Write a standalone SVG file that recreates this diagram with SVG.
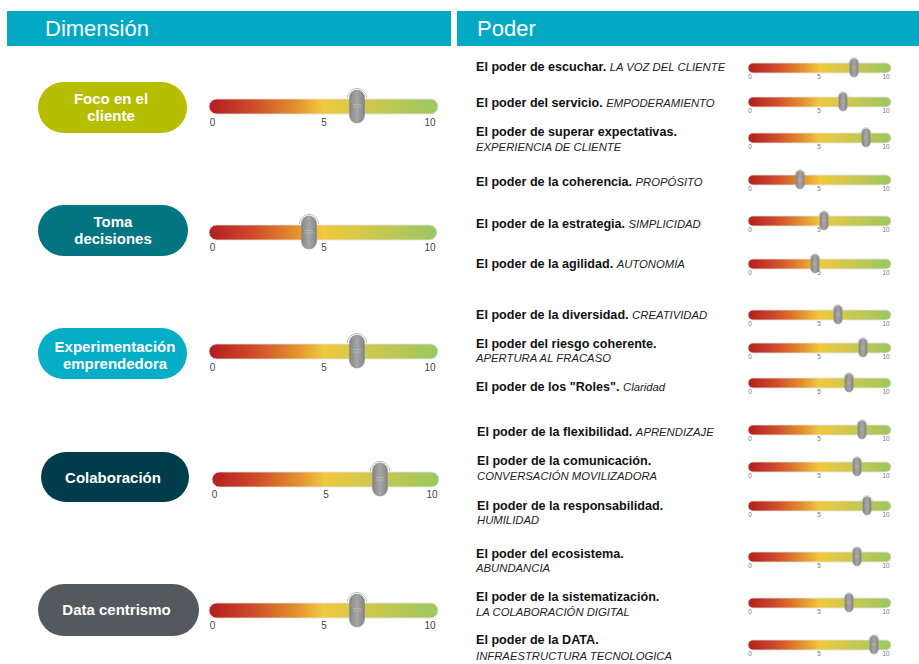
<svg xmlns="http://www.w3.org/2000/svg" xmlns:xlink="http://www.w3.org/1999/xlink" width="919" height="664" viewBox="0 0 919 664">
<style>
.hdr{fill:#02a9c4}
.htxt{font-family:"Liberation Sans",Arial,sans-serif;font-size:22px;fill:#ffffff}
.ptxt{font-family:"Liberation Sans",Arial,sans-serif;font-size:15px;font-weight:bold;fill:#ffffff;text-anchor:middle}
.lbl{font-family:"Liberation Sans",Arial,sans-serif;font-size:10px;fill:#444;text-anchor:middle}
.lbs{font-family:"Liberation Sans",Arial,sans-serif;font-size:6.5px;fill:#777;text-anchor:middle}
.t{font-family:"Liberation Sans",Arial,sans-serif;font-size:12.6px;font-weight:bold;fill:#111}
.i{font-family:"Liberation Sans",Arial,sans-serif;font-size:11.3px;font-style:italic;font-weight:normal;fill:#222}
.bar{fill:url(#barGrad);stroke:#e4e4e4;stroke-width:0.8}
</style>
<defs>
<linearGradient id="barGrad" x1="0" y1="0" x2="1" y2="0">
<stop offset="0" stop-color="#b41d22"/>
<stop offset="0.2" stop-color="#cf4d2a"/>
<stop offset="0.38" stop-color="#e3902f"/>
<stop offset="0.5" stop-color="#f0c93f"/>
<stop offset="0.7" stop-color="#cec84d"/>
<stop offset="1" stop-color="#9bc862"/>
</linearGradient>
<linearGradient id="knobGrad" x1="0" y1="0" x2="1" y2="0">
<stop offset="0" stop-color="#858585"/>
<stop offset="0.5" stop-color="#a6a6a6"/>
<stop offset="1" stop-color="#858585"/>
</linearGradient>
<g id="knob">
<path d="M -9.5 -8 A 9.5 9.5 0 0 1 9.5 -8" fill="none" stroke="#a0a0a0" stroke-width="0.8"/>
<path d="M -8.3 -8 A 8.3 8.3 0 0 1 8.3 -8" fill="none" stroke="#ffffff" stroke-width="1.6"/>
<rect x="-7.5" y="-16" width="15" height="33" rx="7.5" fill="url(#knobGrad)" stroke="#8a8a8a" stroke-width="0.6"/>
<line x1="-4" y1="-1.5" x2="4" y2="-1.5" stroke="#bdbdbd" stroke-width="0.8"/>
<line x1="-4" y1="1" x2="4" y2="1" stroke="#bdbdbd" stroke-width="0.8"/>
</g>
</defs>

<rect width="919" height="664" fill="#ffffff"/>

<g id="headers">
<rect class="hdr" x="7" y="11" width="444" height="35"/>
<rect class="hdr" x="457" y="11" width="462" height="35"/>
<text class="htxt" x="45" y="36">Dimensión</text>
<text class="htxt" x="477" y="36">Poder</text>
</g>

<g id="dim-foco">
<rect x="38" y="82" width="149" height="51" rx="25.5" fill="#b6be00"/>
<text class="ptxt" x="111" y="104">Foco en el</text>
<text class="ptxt" x="111" y="121">cliente</text>
<rect class="bar" x="209" y="99" width="229" height="15" rx="7.5"/>
<text class="lbl" x="212.5" y="126">0</text><text class="lbl" x="324" y="126">5</text><text class="lbl" x="430" y="126">10</text>
<use xlink:href="#knob" transform="translate(357,106)"/>
</g>

<g id="dim-toma">
<rect x="38" y="205" width="150" height="51" rx="25.5" fill="#037580"/>
<text class="ptxt" x="113" y="227">Toma</text>
<text class="ptxt" x="113" y="244">decisiones</text>
<rect class="bar" x="209" y="225" width="228" height="15" rx="7.5"/>
<text class="lbl" x="212.5" y="251">0</text><text class="lbl" x="324" y="251">5</text><text class="lbl" x="430" y="251">10</text>
<use xlink:href="#knob" transform="translate(309,232)"/>
</g>

<g id="dim-experimentacion">
<rect x="38" y="328" width="149" height="51" rx="25.5" fill="#05adc7"/>
<text class="ptxt" x="115" y="352">Experimentación</text>
<text class="ptxt" x="115" y="369">emprendedora</text>
<rect class="bar" x="209" y="344" width="229" height="15" rx="7.5"/>
<text class="lbl" x="212.5" y="371">0</text><text class="lbl" x="324" y="371">5</text><text class="lbl" x="430" y="371">10</text>
<use xlink:href="#knob" transform="translate(357,351)"/>
</g>

<g id="dim-colaboracion">
<rect x="41" y="452" width="148" height="50" rx="25" fill="#003c4a"/>
<text class="ptxt" x="113" y="483">Colaboración</text>
<rect class="bar" x="212" y="472" width="227" height="15" rx="7.5"/>
<text class="lbl" x="214.5" y="498">0</text><text class="lbl" x="326" y="498">5</text><text class="lbl" x="432" y="498">10</text>
<use xlink:href="#knob" transform="translate(380,479)"/>
</g>

<g id="dim-data">
<rect x="38" y="584" width="161" height="52" rx="26" fill="#53595c"/>
<text class="ptxt" x="116.5" y="615">Data centrismo</text>
<rect class="bar" x="209" y="603" width="229" height="15" rx="7.5"/>
<text class="lbl" x="212.5" y="629">0</text><text class="lbl" x="324" y="629">5</text><text class="lbl" x="430" y="629">10</text>
<use xlink:href="#knob" transform="translate(357,610)"/>
</g>

<g id="p1">
<text x="476" y="71"><tspan class="t">El poder de escuchar. </tspan><tspan class="i">LA VOZ DEL CLIENTE</tspan></text>
<rect class="bar" x="748" y="63" width="143" height="10" rx="5"/>
<text class="lbs" x="750" y="78.5">0</text><text class="lbs" x="819" y="78.5">5</text><text class="lbs" x="886" y="78.5">10</text>
<use xlink:href="#knob" transform="translate(854,67.5) scale(0.56)"/>
</g>
<g id="p2">
<text x="476" y="107"><tspan class="t">El poder del servicio. </tspan><tspan class="i">EMPODERAMIENTO</tspan></text>
<rect class="bar" x="748" y="97" width="143" height="10" rx="5"/>
<text class="lbs" x="750" y="112.5">0</text><text class="lbs" x="819" y="112.5">5</text><text class="lbs" x="886" y="112.5">10</text>
<use xlink:href="#knob" transform="translate(843,101.5) scale(0.56)"/>
</g>
<g id="p3">
<text class="t" x="476" y="136">El poder de superar expectativas.</text>
<text class="i" x="476" y="151">EXPERIENCIA DE CLIENTE</text>
<rect class="bar" x="748" y="133" width="143" height="10" rx="5"/>
<text class="lbs" x="750" y="148.5">0</text><text class="lbs" x="819" y="148.5">5</text><text class="lbs" x="886" y="148.5">10</text>
<use xlink:href="#knob" transform="translate(866,137.5) scale(0.56)"/>
</g>
<g id="p4">
<text x="476" y="186"><tspan class="t">El poder de la coherencia. </tspan><tspan class="i">PROPÓSITO</tspan></text>
<rect class="bar" x="748" y="175" width="143" height="10" rx="5"/>
<text class="lbs" x="750" y="190.5">0</text><text class="lbs" x="819" y="190.5">5</text><text class="lbs" x="886" y="190.5">10</text>
<use xlink:href="#knob" transform="translate(800,179.5) scale(0.56)"/>
</g>
<g id="p5">
<text x="476" y="228"><tspan class="t">El poder de la estrategia. </tspan><tspan class="i">SIMPLICIDAD</tspan></text>
<rect class="bar" x="748" y="216" width="143" height="10" rx="5"/>
<text class="lbs" x="750" y="231.5">0</text><text class="lbs" x="819" y="231.5">5</text><text class="lbs" x="886" y="231.5">10</text>
<use xlink:href="#knob" transform="translate(824,220.5) scale(0.56)"/>
</g>
<g id="p6">
<text x="476" y="268"><tspan class="t">El poder de la agilidad. </tspan><tspan class="i">AUTONOMÍA</tspan></text>
<rect class="bar" x="748" y="259" width="143" height="10" rx="5"/>
<text class="lbs" x="750" y="274.5">0</text><text class="lbs" x="819" y="274.5">5</text><text class="lbs" x="886" y="274.5">10</text>
<use xlink:href="#knob" transform="translate(815,263.5) scale(0.56)"/>
</g>
<g id="p7">
<text x="476" y="319"><tspan class="t">El poder de la diversidad. </tspan><tspan class="i">CREATIVIDAD</tspan></text>
<rect class="bar" x="748" y="310" width="143" height="10" rx="5"/>
<text class="lbs" x="750" y="325.5">0</text><text class="lbs" x="819" y="325.5">5</text><text class="lbs" x="886" y="325.5">10</text>
<use xlink:href="#knob" transform="translate(838,314.5) scale(0.56)"/>
</g>
<g id="p8">
<text class="t" x="476" y="348">El poder del riesgo coherente.</text>
<text class="i" x="476" y="362">APERTURA AL FRACASO</text>
<rect class="bar" x="748" y="343" width="143" height="10" rx="5"/>
<text class="lbs" x="750" y="358.5">0</text><text class="lbs" x="819" y="358.5">5</text><text class="lbs" x="886" y="358.5">10</text>
<use xlink:href="#knob" transform="translate(863,347.5) scale(0.56)"/>
</g>
<g id="p9">
<text x="476" y="391"><tspan class="t">El poder de los "Roles". </tspan><tspan class="i">Claridad</tspan></text>
<rect class="bar" x="748" y="378" width="143" height="10" rx="5"/>
<text class="lbs" x="750" y="393.5">0</text><text class="lbs" x="819" y="393.5">5</text><text class="lbs" x="886" y="393.5">10</text>
<use xlink:href="#knob" transform="translate(849,382.5) scale(0.56)"/>
</g>
<g id="p10">
<text x="477" y="436"><tspan class="t">El poder de la flexibilidad. </tspan><tspan class="i">APRENDIZAJE</tspan></text>
<rect class="bar" x="748" y="425" width="143" height="10" rx="5"/>
<text class="lbs" x="750" y="440.5">0</text><text class="lbs" x="819" y="440.5">5</text><text class="lbs" x="886" y="440.5">10</text>
<use xlink:href="#knob" transform="translate(862,429.5) scale(0.56)"/>
</g>
<g id="p11">
<text class="t" x="477" y="465">El poder de la comunicación.</text>
<text class="i" x="477" y="480">CONVERSACIÓN MOVILIZADORA</text>
<rect class="bar" x="748" y="462" width="143" height="10" rx="5"/>
<text class="lbs" x="750" y="477.5">0</text><text class="lbs" x="819" y="477.5">5</text><text class="lbs" x="886" y="477.5">10</text>
<use xlink:href="#knob" transform="translate(857,466.5) scale(0.56)"/>
</g>
<g id="p12">
<text class="t" x="477" y="510">El poder de la responsabilidad.</text>
<text class="i" x="477" y="524">HUMILIDAD</text>
<rect class="bar" x="748" y="501" width="143" height="10" rx="5"/>
<text class="lbs" x="750" y="516.5">0</text><text class="lbs" x="819" y="516.5">5</text><text class="lbs" x="886" y="516.5">10</text>
<use xlink:href="#knob" transform="translate(867,505.5) scale(0.56)"/>
</g>
<g id="p13">
<text class="t" x="476" y="558">El poder del ecosistema.</text>
<text class="i" x="476" y="572">ABUNDANCIA</text>
<rect class="bar" x="748" y="552" width="143" height="10" rx="5"/>
<text class="lbs" x="750" y="567.5">0</text><text class="lbs" x="819" y="567.5">5</text><text class="lbs" x="886" y="567.5">10</text>
<use xlink:href="#knob" transform="translate(857,556.5) scale(0.56)"/>
</g>
<g id="p14">
<text class="t" x="476" y="601">El poder de la sistematización.</text>
<text class="i" x="476" y="616">LA COLABORACIÓN DIGITAL</text>
<rect class="bar" x="748" y="598" width="143" height="10" rx="5"/>
<text class="lbs" x="750" y="613.5">0</text><text class="lbs" x="819" y="613.5">5</text><text class="lbs" x="886" y="613.5">10</text>
<use xlink:href="#knob" transform="translate(849,602.5) scale(0.56)"/>
</g>
<g id="p15">
<text class="t" x="476" y="644">El poder de la DATA.</text>
<text class="i" x="476" y="660">INFRAESTRUCTURA TECNOLOGICA</text>
<rect class="bar" x="748" y="640" width="143" height="10" rx="5"/>
<text class="lbs" x="750" y="655.5">0</text><text class="lbs" x="819" y="655.5">5</text><text class="lbs" x="886" y="655.5">10</text>
<use xlink:href="#knob" transform="translate(874,644.5) scale(0.56)"/>
</g>

<g id="connectors"></g>
</svg>
